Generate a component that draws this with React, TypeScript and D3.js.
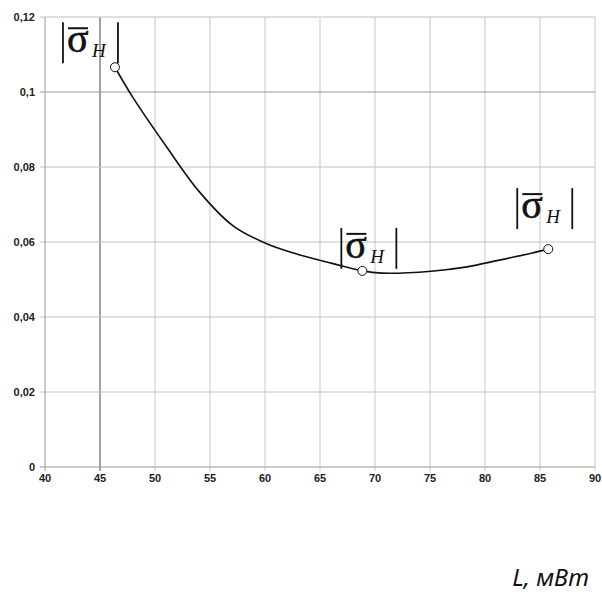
import React, { useRef, useEffect } from "react";
import * as d3 from "d3";

// axis ticks
const xTicks = [40, 45, 50, 55, 60, 65, 70, 75, 80, 85, 90];
const yTicks = [0, 0.02, 0.04, 0.06, 0.08, 0.1, 0.12];
const yTickLabels = ["0", "0,02", "0,04", "0,06", "0,08", "0,1", "0,12"];

// smooth curve
const curveX = [46.36, 48.0, 51.0, 54.0, 57.1, 60.1, 63.1, 66.1, 68.85, 70.6, 75.1, 78.2, 81.2, 84.2, 85.75];
const curveY = [0.1066, 0.0985, 0.0856, 0.0735, 0.0643, 0.0596, 0.0566, 0.0543, 0.0523, 0.0517, 0.0522, 0.0533, 0.0551, 0.057, 0.0581];

// marked points
const pointX = [46.36, 68.85, 85.75];
const pointY = [0.1066, 0.0523, 0.0581];

const Chart = () => {
  const ref = useRef<SVGSVGElement>(null);

  useEffect(() => {
    const svg = d3.select(ref.current);
    svg.selectAll("*").remove();

    const width = 602;
    const height = 594;
    const left = 45;
    const right = 595;
    const top = 17;
    const bottom = 467;

    const x = d3.scaleLinear().domain([40, 90]).range([left, right]);
    const y = d3.scaleLinear().domain([0, 0.12]).range([bottom, top]);

    svg.attr("width", width).attr("height", height);
    svg.append("rect").attr("width", width).attr("height", height).attr("fill", "#fff");

    // grid
    svg
      .selectAll(".vgrid")
      .data(xTicks.slice(1))
      .enter()
      .append("line")
      .attr("x1", (d) => x(d))
      .attr("x2", (d) => x(d))
      .attr("y1", top)
      .attr("y2", bottom + 4)
      .attr("stroke", (d) => (d === 45 ? "#444" : "#c8c8c8"))
      .attr("stroke-width", 1);

    svg
      .selectAll(".hgrid")
      .data(yTicks.slice(1))
      .enter()
      .append("line")
      .attr("x1", left - 5)
      .attr("x2", right)
      .attr("y1", (d) => y(d))
      .attr("y2", (d) => y(d))
      .attr("stroke", (d) => (d === 0.1 ? "#999" : "#c0c0c0"))
      .attr("stroke-width", 1);

    // axes
    svg.append("line").attr("x1", left).attr("x2", left).attr("y1", top).attr("y2", bottom + 4).attr("stroke", "#999");
    svg.append("line").attr("x1", left - 5).attr("x2", right).attr("y1", bottom).attr("y2", bottom).attr("stroke", "#999");

    svg
      .selectAll(".ylab")
      .data(yTicks)
      .enter()
      .append("text")
      .attr("x", 35)
      .attr("y", (d) => y(d))
      .attr("dy", "0.35em")
      .attr("text-anchor", "end")
      .style("font-family", "Liberation Sans, Arial, sans-serif")
      .style("font-size", "11px")
      .style("font-weight", "bold")
      .attr("fill", "#222")
      .text((d, i) => yTickLabels[i]);

    svg
      .selectAll(".xlab")
      .data(xTicks)
      .enter()
      .append("text")
      .attr("x", (d) => x(d))
      .attr("y", bottom + 11)
      .attr("dy", "0.35em")
      .attr("text-anchor", "middle")
      .style("font-family", "Liberation Sans, Arial, sans-serif")
      .style("font-size", "11px")
      .style("font-weight", "bold")
      .attr("fill", "#222")
      .text((d) => d);

    // curve
    const line = d3
      .line<number>()
      .x((d) => x(d))
      .y((d, i) => y(curveY[i]))
      .curve(d3.curveCatmullRom.alpha(0.5));

    svg
      .append("path")
      .attr("d", line(curveX))
      .attr("fill", "none")
      .attr("stroke", "#111")
      .attr("stroke-width", 1.6);

    svg
      .selectAll(".pt")
      .data(pointX)
      .enter()
      .append("circle")
      .attr("cx", (d) => x(d))
      .attr("cy", (d, i) => y(pointY[i]))
      .attr("r", 4.5)
      .attr("fill", "#fff")
      .attr("stroke", "#111")
      .attr("stroke-width", 1);

    // |σ̄H| labels next to each point
    const labelDx = [-52, -21, -31];
    const labelDy = [-45, -43, -61];

    pointX.forEach((px, i) => {
      const lx = x(px) + labelDx[i];
      const ly = y(pointY[i]) + labelDy[i];
      const g = svg.append("g").attr("transform", `translate(${lx},${ly})`);
      g.append("line").attr("x1", 0).attr("x2", 0).attr("y1", 0).attr("y2", 41).attr("stroke", "#111").attr("stroke-width", 1.8);
      g.append("line").attr("x1", 55).attr("x2", 55).attr("y1", 0).attr("y2", 41).attr("stroke", "#111").attr("stroke-width", 1.8);
      g.append("line").attr("x1", 5).attr("x2", 25).attr("y1", 6).attr("y2", 6).attr("stroke", "#111").attr("stroke-width", 2);
      g.append("text")
        .attr("x", 4)
        .attr("y", 30)
        .style("font-family", "Liberation Serif, Times New Roman, serif")
        .style("font-size", "40px")
        .attr("fill", "#111")
        .attr("stroke", "#111")
        .attr("stroke-width", 0.6)
        .text("σ");
      g.append("text")
        .attr("x", 29)
        .attr("y", 35)
        .style("font-family", "Liberation Serif, Times New Roman, serif")
        .style("font-size", "19px")
        .style("font-style", "italic")
        .attr("fill", "#111")
        .text("H");
    });

    svg
      .append("text")
      .attr("x", 589)
      .attr("y", 586)
      .attr("text-anchor", "end")
      .style("font-family", "Noto Sans, Open Sans, sans-serif")
      .style("font-size", "24px")
      .style("font-style", "italic")
      .attr("fill", "#111")
      .text("L, мВт");
  }, []);

  return <svg ref={ref} style={{ position: "absolute", left: 0, top: 0 }}></svg>;
};

export default function App() {
  return <Chart />;
}
